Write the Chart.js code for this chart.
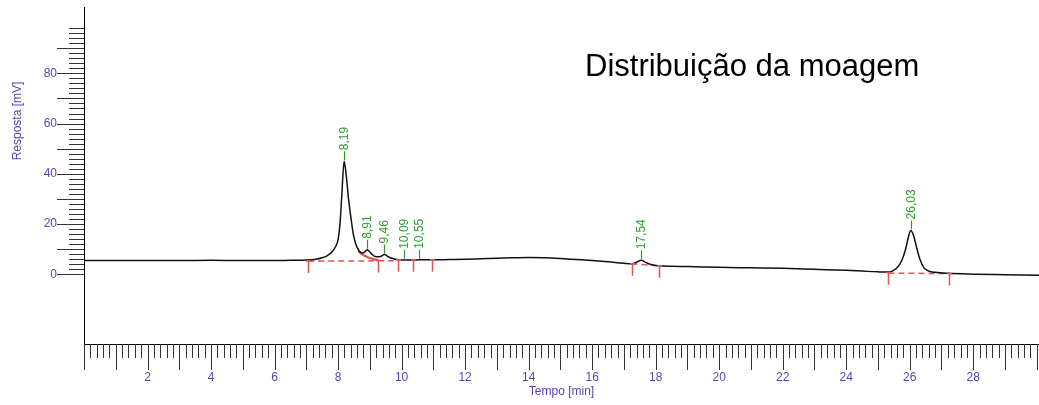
<!DOCTYPE html>
<html><head><meta charset="utf-8">
<script src="https://cdn.jsdelivr.net/npm/chart.js@4.4.1/dist/chart.umd.min.js"></script>
<style>html,body{margin:0;padding:0;background:#fff;}#wrap{width:1039px;height:405px;}</style>
</head><body><div id="wrap"><canvas id="c" width="1039" height="405"></canvas></div>
<script>
// ---- data ----
const times = [0,1,2,3,4,5,6,6.5,7.0,7.3, 7.5,7.65,7.8,7.92,8.0,8.06,8.12,8.19,8.26,8.33, 8.40,8.48,8.56,8.66,8.75,8.84,8.91,8.98,9.08,9.2, 9.33,9.46,9.58,9.72,9.9,10.2,10.6,11,11.5,12, 12.5,13,13.5,14,14.5,15,15.5,16,16.5,17.0, 17.25,17.4,17.54,17.68,17.85,18.1,18.5,19,20,21, 22,23,24,24.5,25.0,25.3,25.45,25.6,25.75,25.88, 25.96,26.03,26.12,26.22,26.32,26.45,26.6,26.8,27.2,28, 29,30.07];
const response = [5.5,5.5,5.5,5.5,5.6,5.5,5.5,5.6,5.7,6.0, 6.6,7.4,8.8,11.0,13.8,20.0,32.0,45.0,39.0,30.0, 23.0,16.0,12.0,9.4,8.5,8.9,9.8,9.2,7.8,7.0, 7.1,7.9,7.0,6.3,5.8,5.7,5.8,5.8,5.9,6.0, 6.2,6.4,6.6,6.7,6.6,6.3,5.9,5.5,5.0,4.4, 4.2,4.8,5.6,4.8,3.9,3.4,3.2,3.1,2.8,2.6, 2.4,2.0,1.6,1.3,1.0,0.9,1.3,2.6,5.5,10.5, 15.0,17.5,15.5,10.5,6.0,2.6,1.3,0.8,0.4,0.1, -0.1,-0.3];

const baseline1Times = [7.06, 9.75];
const baseline1Values = [5.3, 5.4];
const skimTimes = [8.64, 8.76, 8.9, 9.08, 9.27];
const skimValues = [9.2, 8.0, 7.0, 6.2, 5.6];
const baseline2Times = [17.24, 18.1];
const baseline2Values = [4.2, 3.4];
const baseline3Times = [25.33, 27.25];
const baseline3Values = [0.5, 0.3];

const markerTimes = [7.06, 9.27, 9.9, 10.37, 10.95, 17.24, 18.1, 25.33, 27.25];
const markerTops  = [5.3, 5.5, 5.8, 5.8, 5.8, 4.2, 3.4, 0.6, 0.3];

const peakTimes  = [8.19, 8.91, 9.46, 10.09, 10.55, 17.54, 26.03];
const peakTops   = [45, 9.8, 7.9, 5.8, 5.8, 5.6, 17.5];
const peakLabels = ['8,19', '8,91', '9,46', '10,09', '10,55', '17,54', '26,03'];

const xTickLabels = [2,4,6,8,10,12,14,16,18,20,22,24,26,28];
const yTickLabels = [0,20,40,60,80];

const chartTitle = 'Distribuição da moagem';
const yTitle = 'Resposta [mV]';
const xTitle = 'Tempo [min]';

// ---- styling ----
const FONT = '"Liberation Sans", Arial, sans-serif';
const PURPLE = '#5b3fb8';
const GREEN = '#2f9b2f';
const RED = '#e05656';
const TICK = '#333';

const pts = (xs, ys) => xs.map((t, i) => ({x: t, y: ys[i]}));

const decor = {
  id: 'decor',
  afterDatasetsDraw(chart) {
    const {ctx, scales: {x, y}} = chart;
    ctx.save();
    ctx.strokeStyle = RED; ctx.lineWidth = 1.5;
    markerTimes.forEach((t, i) => {
      const px = Math.round(x.getPixelForValue(t)) + 0.5, py = y.getPixelForValue(markerTops[i]);
      ctx.beginPath();
      ctx.moveTo(px, py); ctx.lineTo(px, py + 12);
      ctx.moveTo(px - 2.5, py); ctx.lineTo(px + 2.5, py);
      ctx.stroke();
    });
    ctx.strokeStyle = GREEN; ctx.fillStyle = GREEN; ctx.lineWidth = 1.2;
    ctx.font = '12px ' + FONT;
    peakTimes.forEach((t, i) => {
      const px = Math.round(x.getPixelForValue(t)) + 0.5, py = y.getPixelForValue(peakTops[i]);
      ctx.beginPath(); ctx.moveTo(px, py - 1); ctx.lineTo(px, py - 10); ctx.stroke();
      ctx.save(); ctx.translate(px, py - 11); ctx.rotate(-Math.PI / 2);
      ctx.textAlign = 'left'; ctx.textBaseline = 'middle';
      ctx.fillText(peakLabels[i], 0, 0);
      ctx.restore();
    });
    ctx.restore();
  },
  afterDraw(chart) {
    const {ctx, scales: {x, y}, chartArea: ca} = chart;
    ctx.save();
    ctx.strokeStyle = TICK; ctx.lineWidth = 1;
    ctx.beginPath();
    for (let v = 0; v <= 98; v += 2) {
      const py = Math.round(y.getPixelForValue(v)) + 0.5;
      const len = (v % 10 === 0) ? 27 : 15;
      ctx.moveTo(ca.left - len, py); ctx.lineTo(ca.left, py);
    }
    for (let k = 0; k <= 150; k++) {
      const t = k / 5;
      if (t > x.max) break;
      const px = Math.round(x.getPixelForValue(t)) + 0.5;
      const len = (k % 5 === 0) ? 26 : 14;
      ctx.moveTo(px, ca.bottom); ctx.lineTo(px, ca.bottom + len);
    }
    ctx.stroke();
    // y title
    ctx.fillStyle = PURPLE; ctx.font = '12px ' + FONT;
    ctx.save(); ctx.translate(18, 121); ctx.rotate(-Math.PI / 2);
    ctx.textAlign = 'center'; ctx.textBaseline = 'middle';
    ctx.fillText(yTitle, 0, 0); ctx.restore();
    // chart title
    ctx.fillStyle = '#000'; ctx.font = '31px ' + FONT;
    ctx.textAlign = 'left'; ctx.textBaseline = 'alphabetic';
    ctx.fillText(chartTitle, 585, 76);
    ctx.restore();
  }
};

new Chart(document.getElementById('c'), {
  type: 'line',
  data: {
    datasets: [
      {data: pts(times, response), borderColor: '#111', borderWidth: 1.5, pointRadius: 0, cubicInterpolationMode: 'monotone', fill: false},
      {data: pts(baseline1Times, baseline1Values), borderColor: RED, borderWidth: 1.5, borderDash: [6, 4], pointRadius: 0},
      {data: pts(skimTimes, skimValues), borderColor: RED, borderWidth: 2.2, pointRadius: 0, cubicInterpolationMode: 'monotone'},
      {data: pts(baseline2Times, baseline2Values), borderColor: RED, borderWidth: 1.5, borderDash: [6, 4], pointRadius: 0},
      {data: pts(baseline3Times, baseline3Values), borderColor: RED, borderWidth: 1.5, borderDash: [6, 4], pointRadius: 0}
    ]
  },
  options: {
    responsive: false, animation: false,
    layout: {padding: {top: 5, right: 0, left: 0, bottom: 0}},
    plugins: {legend: {display: false}, tooltip: {enabled: false}, title: {display: false}},
    scales: {
      x: {
        type: 'linear', min: 0, max: 30.07,
        afterBuildTicks: s => { s.ticks = xTickLabels.map(v => ({value: v})); },
        afterFit: s => { s.height = 61; },
        ticks: {color: PURPLE, font: {family: FONT, size: 12}, padding: 0, maxRotation: 0, autoSkip: false},
        grid: {display: true, drawOnChartArea: false, drawTicks: true, tickLength: 26, color: 'rgba(0,0,0,0)'},
        border: {display: true, color: '#000', width: 1},
        title: {display: true, text: xTitle, color: PURPLE, font: {family: FONT, size: 12}, padding: {top: 0, bottom: 6}}
      },
      y: {
        type: 'linear', min: -27.7, max: 106.3,
        afterBuildTicks: s => { s.ticks = yTickLabels.map(v => ({value: v})); },
        afterFit: s => { s.width = 84; },
        ticks: {color: PURPLE, font: {family: FONT, size: 12}, padding: 0},
        grid: {display: true, drawOnChartArea: false, drawTicks: true, tickLength: 27, color: 'rgba(0,0,0,0)'},
        border: {display: true, color: '#000', width: 1}
      }
    }
  },
  plugins: [decor]
});
</script>
</body></html>
